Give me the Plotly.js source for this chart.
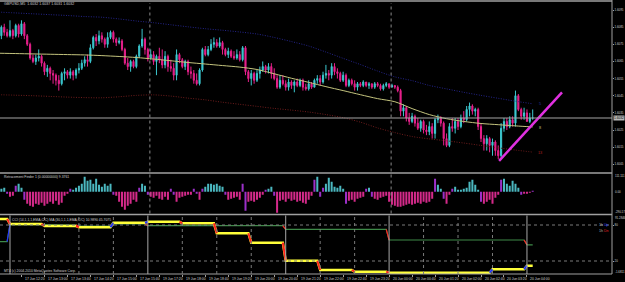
<!DOCTYPE html>
<html><head><meta charset="utf-8">
<script src="https://cdn.plot.ly/plotly-3.0.1.min.js"></script>
<style>html,body{margin:0;padding:0;background:#000;overflow:hidden}#chart{width:625px;height:282px}</style>
</head><body><div id="chart"></div>
<script>
// ---------------- DATA ----------------
const chartTitle = "GBPUSD,M5  1.6032 1.6037 1.6031 1.6032";
const histTitle = "Retracement Finder 1 (0.00000000) 9.3761";
const oscTitle = "CCI (14,1,1,1,EMA,C/C) MA (30,1,1,1,EMA,C/C) 10.9890 45.7075";
const copyrightText = "MT4 (c) 2004-2010 MetaQuotes Software Corp.";
const firstOpen = 1.6078;
const closes = [1.6080,1.6085,1.6082,1.6080,1.6083,1.6080,1.6086,1.6081,1.6087,1.6080,
1.6075,1.6067,1.6065,1.6067,1.6068,1.6064,1.6059,1.6061,1.6058,1.6057,
1.6054,1.6052,1.6058,1.6059,1.6057,1.6059,1.6057,1.6060,1.6061,1.6064,
1.6066,1.6065,1.6073,1.6079,1.6077,1.6080,1.6078,1.6075,1.6079,1.6082,
1.6078,1.6076,1.6077,1.6072,1.6064,1.6062,1.6065,1.6062,1.6068,1.6074,
1.6078,1.6072,1.6067,1.6069,1.6065,1.6068,1.6066,1.6063,1.6068,1.6062,
1.6061,1.6057,1.6069,1.6066,1.6062,1.6065,1.6059,1.6058,1.6054,1.6052,
1.6060,1.6072,1.6069,1.6072,1.6075,1.6076,1.6074,1.6076,1.6072,1.6069,
1.6071,1.6068,1.6067,1.6069,1.6066,1.6073,1.6059,1.6055,1.6058,1.6054,
1.6058,1.6060,1.6062,1.6060,1.6062,1.6058,1.6055,1.6050,1.6054,1.6052,
1.6050,1.6053,1.6051,1.6053,1.6051,1.6054,1.6050,1.6049,1.6052,1.6050,
1.6054,1.6055,1.6053,1.6057,1.6058,1.6057,1.6062,1.6059,1.6058,1.6054,
1.6057,1.6051,1.6054,1.6052,1.6050,1.6052,1.6051,1.6053,1.6051,1.6052,
1.6050,1.6052,1.6051,1.6049,1.6051,1.6052,1.6050,1.6051,1.6050,1.6048,
1.6036,1.6038,1.6032,1.6030,1.6033,1.6029,1.6026,1.6030,1.6025,1.6024,
1.6027,1.6023,1.6031,1.6032,1.6029,1.6020,1.6016,1.6027,1.6026,1.6030,
1.6027,1.6032,1.6031,1.6037,1.6039,1.6036,1.6037,1.6027,1.6020,1.6017,
1.6020,1.6016,1.6018,1.6013,1.6010,1.6026,1.6030,1.6027,1.6031,1.6029,
1.6045,1.6037,1.6033,1.6035,1.6030,1.6032,1.6032];
const highs = [1.6083,1.6086,1.6087,1.6084,1.6089,1.6084,1.6087,1.6087,1.6089,1.6088,
1.6081,1.6076,1.6069,1.6069,1.6072,1.6069,1.6065,1.6063,1.6062,1.6060,
1.6058,1.6057,1.6059,1.6061,1.6060,1.6061,1.6060,1.6061,1.6064,1.6066,
1.6068,1.6069,1.6075,1.6080,1.6081,1.6083,1.6082,1.6079,1.6082,1.6083,
1.6083,1.6079,1.6079,1.6078,1.6073,1.6067,1.6066,1.6066,1.6069,1.6075,
1.6084,1.6079,1.6073,1.6072,1.6071,1.6069,1.6073,1.6072,1.6071,1.6069,
1.6066,1.6064,1.6072,1.6070,1.6067,1.6066,1.6066,1.6062,1.6060,1.6058,
1.6061,1.6073,1.6074,1.6074,1.6078,1.6079,1.6078,1.6079,1.6077,1.6073,
1.6073,1.6072,1.6071,1.6072,1.6071,1.6074,1.6074,1.6060,1.6060,1.6059,
1.6060,1.6062,1.6065,1.6063,1.6064,1.6064,1.6061,1.6057,1.6057,1.6057,
1.6054,1.6055,1.6054,1.6054,1.6055,1.6055,1.6055,1.6052,1.6054,1.6053,
1.6055,1.6057,1.6057,1.6059,1.6063,1.6060,1.6064,1.6064,1.6061,1.6059,
1.6059,1.6058,1.6055,1.6055,1.6054,1.6053,1.6053,1.6054,1.6053,1.6053,
1.6052,1.6053,1.6053,1.6052,1.6052,1.6053,1.6052,1.6052,1.6051,1.6051,
1.6049,1.6040,1.6039,1.6035,1.6035,1.6034,1.6032,1.6031,1.6031,1.6028,
1.6030,1.6029,1.6032,1.6034,1.6033,1.6030,1.6023,1.6029,1.6032,1.6032,
1.6032,1.6034,1.6036,1.6039,1.6041,1.6040,1.6038,1.6038,1.6029,1.6022,
1.6022,1.6021,1.6020,1.6019,1.6016,1.6029,1.6032,1.6032,1.6033,1.6033,
1.6048,1.6046,1.6038,1.6038,1.6037,1.6035,1.6037];
const lows = [1.6076,1.6078,1.6080,1.6079,1.6079,1.6078,1.6079,1.6079,1.6080,1.6078,
1.6074,1.6066,1.6064,1.6063,1.6065,1.6062,1.6057,1.6056,1.6054,1.6052,
1.6051,1.6048,1.6051,1.6054,1.6055,1.6055,1.6054,1.6055,1.6058,1.6060,
1.6062,1.6062,1.6064,1.6072,1.6074,1.6075,1.6076,1.6073,1.6073,1.6078,
1.6076,1.6074,1.6075,1.6071,1.6063,1.6060,1.6059,1.6061,1.6061,1.6067,
1.6073,1.6069,1.6065,1.6066,1.6063,1.6057,1.6064,1.6061,1.6061,1.6059,
1.6059,1.6054,1.6054,1.6064,1.6061,1.6060,1.6057,1.6055,1.6052,1.6051,
1.6051,1.6059,1.6068,1.6068,1.6071,1.6073,1.6073,1.6073,1.6069,1.6068,
1.6067,1.6067,1.6066,1.6066,1.6065,1.6065,1.6057,1.6053,1.6051,1.6052,
1.6053,1.6055,1.6059,1.6058,1.6058,1.6055,1.6054,1.6049,1.6049,1.6051,
1.6048,1.6048,1.6049,1.6047,1.6050,1.6050,1.6048,1.6048,1.6048,1.6049,
1.6050,1.6052,1.6051,1.6052,1.6055,1.6054,1.6055,1.6057,1.6055,1.6053,
1.6053,1.6050,1.6050,1.6051,1.6048,1.6048,1.6050,1.6050,1.6050,1.6049,
1.6049,1.6049,1.6050,1.6048,1.6048,1.6050,1.6049,1.6050,1.6049,1.6047,
1.6033,1.6033,1.6030,1.6028,1.6029,1.6027,1.6025,1.6024,1.6023,1.6022,
1.6022,1.6020,1.6020,1.6029,1.6027,1.6016,1.6015,1.6015,1.6024,1.6023,
1.6025,1.6026,1.6029,1.6030,1.6033,1.6034,1.6033,1.6025,1.6018,1.6013,
1.6013,1.6012,1.6010,1.6010,1.6008,1.6009,1.6024,1.6025,1.6026,1.6027,
1.6027,1.6036,1.6031,1.6031,1.6030,1.6029,1.6031];

// moving averages, sampled every 6 bars
const maBars = [0,6,12,18,24,30,36,42,48,54,60,66,72,78,84,90,96,102,108,114,120,126,132,138,144,150,156,162,168,174,180,186];
const maYellow = [1.60698,1.60696,1.60694,1.60692,1.60690,1.60688,1.60684,1.60679,1.60673,1.60664,1.60654,1.60644,1.60635,1.60626,1.60617,1.60603,1.60578,1.60552,1.60528,1.60503,1.60480,1.60456,1.60433,1.60415,1.60375,1.60340,1.60316,1.60300,1.60288,1.60281,1.60274,1.60268];
const maBlue = [1.60938,1.60933,1.60928,1.60923,1.60918,1.60912,1.60908,1.60898,1.60886,1.60876,1.60864,1.60852,1.60841,1.60832,1.60822,1.60810,1.60790,1.60766,1.60740,1.60705,1.60668,1.60632,1.60594,1.60560,1.60538,1.60510,1.60490,1.60470,1.60452,1.60435,1.60418,1.60403];
const maRed = [1.60456,1.60453,1.60450,1.60446,1.60442,1.60439,1.60438,1.60444,1.60452,1.60455,1.60448,1.60436,1.60426,1.60412,1.60400,1.60388,1.60376,1.60366,1.60355,1.60340,1.60322,1.60296,1.60262,1.60235,1.60212,1.60198,1.60187,1.60174,1.60160,1.60146,1.60133,1.60121];
const maLabels = ["5","8","13"];

// manual trend line
const trendBars = [174.3, 196.2];
const trendPrices = [1.6007, 1.6047];
const bidPrice = 1.6032;

// histogram (Retracement Finder)
const histVals = [21,21,28,-14,-35,-28,42,56,28,-56,
-84,-98,-105,-84,-91,-77,-98,-84,-70,-84,
-63,-91,-77,-28,-14,21,14,28,42,56,
105,77,84,56,91,49,35,56,42,56,
-21,-28,-70,-105,-126,-98,-84,-56,-70,28,
56,42,-21,-35,-42,-28,-49,-56,-35,-56,
21,-21,-70,-42,-35,-28,-21,-21,21,-14,
-56,21,35,56,56,49,56,42,35,-21,
-56,-49,-42,-35,-56,56,-133,-70,-63,-70,
-56,-42,-21,14,21,35,-28,-147,-63,-56,
-70,-49,-63,-56,-70,-63,-77,-84,-56,-28,
84,105,-35,28,56,98,70,35,28,42,
21,-84,-63,-56,-70,-49,-42,-35,21,28,
-35,-49,-56,-42,-35,-28,-70,-91,-98,-105,
-105,-98,-91,-84,-91,-84,-77,-84,-70,-77,
-70,-49,91,49,21,-49,-84,-21,21,35,
14,14,21,28,70,84,49,14,-70,-84,
-70,-56,-84,-42,-21,84,91,56,42,77,
56,28,-21,-14,-14,-7,7];
const histLabels = ["111.111","0.00","-290.173"];

// multi-timeframe oscillator (hourly steps)
const stepBars = [0,4,16,28,40,52,64,76,88,100,112,124,136,148,160,172,184];
const oscMain = [90,81.7,78.3,76.2,83.8,85.5,82.8,66.2,50.5,20.5,5.0,2.2,0.5,0.5,0.5,6.2,12.2];
const oscSignal = [52.2,81.2,80,78.3,81.7,78.8,78.8,78.8,78.8,72.8,72.8,72.8,55,55,55,55,47];
const oscLevels = [80, 20];
const oscScaleLabels = ["91.2846","-1.6811"];
const h4Bars = [4,52,100,136,184];
const daySepBars = [52,136];

// price axis ticks
const priceTicks = [1.6005,1.6015,1.6025,1.6035,1.6045,1.6055,1.6065,1.6075,1.6085,1.6095];
const priceTickText = ["1.6005","1.6015","1.6025","1.6035","1.6045","1.6055","1.6065","1.6075","1.6085","1.6095"];

// time axis labels
const timeBars = [0,8,16,24,32,40,48,56,64,72,80,88,96,104,112,120,128,136,144,152,160,168,176,184];
const timeText = ["17 Jun 2011","17 Jun 12:20","17 Jun 13:00","17 Jun 13:40","17 Jun 14:20","17 Jun 15:00","17 Jun 15:40","19 Jun 17:20","19 Jun 18:00","19 Jun 18:40","19 Jun 19:20","19 Jun 20:00","19 Jun 20:40","19 Jun 21:20","19 Jun 22:00","19 Jun 22:40","19 Jun 23:20","20 Jun 00:00","20 Jun 00:40","20 Jun 01:20","20 Jun 02:00","20 Jun 02:40","20 Jun 03:20","20 Jun 04:00"];

// ---------------- STYLE ----------------
const BULL = '#3cc8d0', BEAR = '#e8208c';
const H_CYAN = '#4bb8c0', H_PINK = '#d42a8a', H_PURPLE = '#9b30c8';
const TXT = '#d0d0d0';
const FONT = 'Liberation Sans, Arial, sans-serif';
const PH = 274; // plot-area height in px (top margin 0)
const P = py => (PH - py) / PH;

const N = closes.length;
const xs = closes.map((_, i) => i);
const opens = [firstOpen].concat(closes.slice(0, -1));

const traces = [];
// moving averages
traces.push({type:'scatter', mode:'lines', x:maBars, y:maBlue, line:{color:'#24248a', width:1, dash:'1px,1.5px', shape:'spline', smoothing:0.8}, hoverinfo:'skip', xaxis:'x', yaxis:'y'});
traces.push({type:'scatter', mode:'lines', x:maBars, y:maRed, line:{color:'#6e1c1c', width:1, dash:'1px,1.5px', shape:'spline', smoothing:0.8}, hoverinfo:'skip', xaxis:'x', yaxis:'y'});
traces.push({type:'scatter', mode:'lines', x:maBars, y:maYellow, line:{color:'#c4c47e', width:1, shape:'spline', smoothing:0.8}, hoverinfo:'skip', xaxis:'x', yaxis:'y'});
// candles
traces.push({type:'candlestick', x:xs, open:opens, high:highs, low:lows, close:closes,
  increasing:{line:{color:BULL, width:1}, fillcolor:BULL},
  decreasing:{line:{color:BEAR, width:1}, fillcolor:BEAR},
  whiskerwidth:0, hoverinfo:'skip', xaxis:'x', yaxis:'y'});
// trend line
traces.push({type:'scatter', mode:'lines', x:trendBars, y:trendPrices, line:{color:'#e030e0', width:2.5}, hoverinfo:'skip', xaxis:'x', yaxis:'y'});

// histogram
const histColors = histVals.map((v, i) => (i > 0 && Math.sign(v) !== Math.sign(histVals[i-1])) ? H_PURPLE : (v >= 0 ? H_CYAN : H_PINK));
traces.push({type:'bar', x:xs, y:histVals, marker:{color:histColors, line:{width:0}}, hoverinfo:'skip', xaxis:'x', yaxis:'y2'});

// oscillator step lines
const segOf = i => { let s = 0; for (let k = 0; k < stepBars.length; k++) if (stepBars[k] <= i) s = k; return s; };
const mainY = xs.map(i => oscMain[segOf(i)]);
const sigY = xs.map(i => oscSignal[segOf(i)]);
function transitions(vals, up) {
  const tx = [], ty = [];
  for (let k = 1; k < stepBars.length; k++) {
    const a = vals[k-1], b = vals[k];
    if (a === b) continue;
    if ((b > a) === up) { tx.push(stepBars[k]-1, stepBars[k], null); ty.push(a, b, null); }
  }
  return {tx, ty};
}
traces.push({type:'scatter', mode:'lines', x:xs, y:sigY, line:{color:'#3e8a48', width:1.2}, hoverinfo:'skip', xaxis:'x', yaxis:'y3'});
traces.push({type:'scatter', mode:'lines', x:xs, y:mainY, line:{color:'#ffff3a', width:2.5}, hoverinfo:'skip', xaxis:'x', yaxis:'y3'});
[[oscSignal, 1.2], [oscMain, 2]].forEach(([vals, w]) => {
  const dn = transitions(vals, false), upT = transitions(vals, true);
  traces.push({type:'scatter', mode:'lines', x:dn.tx, y:dn.ty, line:{color:'#ff2020', width:w}, connectgaps:false, hoverinfo:'skip', xaxis:'x', yaxis:'y3'});
  traces.push({type:'scatter', mode:'lines', x:upT.tx, y:upT.ty, line:{color:'#2030ff', width:w}, connectgaps:false, hoverinfo:'skip', xaxis:'x', yaxis:'y3'});
});

// ---------------- SHAPES ----------------
const shapes = [];
const gray = '#a0a0a0';
shapes.push({type:'line', xref:'paper', yref:'paper', x0:0, x1:1, y0:P(1), y1:P(1), line:{color:gray, width:1.5}});
shapes.push({type:'line', xref:'paper', yref:'paper', x0:0, x1:1, y0:P(173), y1:P(173), line:{color:gray, width:1.5}});
shapes.push({type:'line', xref:'paper', yref:'paper', x0:0, x1:1, y0:P(214.5), y1:P(214.5), line:{color:gray, width:1.5}});
shapes.push({type:'line', xref:'paper', yref:'paper', x0:1, x1:1, y0:0, y1:1, line:{color:gray, width:1}});
shapes.push({type:'line', xref:'paper', yref:'paper', x0:0, x1:1, y0:0, y1:0, line:{color:gray, width:1}});
shapes.push({type:'line', xref:'paper', yref:'y', x0:0, x1:1, y0:bidPrice, y1:bidPrice, line:{color:'#a4a4a4', width:1}});
daySepBars.forEach(b => shapes.push({type:'line', xref:'x', yref:'paper', x0:b+0.7, x1:b+0.7, y0:P(213.5), y1:P(3), line:{color:'#8a8a8a', width:1, dash:'dot'}}));
stepBars.slice(1).forEach(b => {
  const solid = h4Bars.includes(b);
  shapes.push({type:'line', xref:'x', yref:'paper', x0:b, x1:b, y0:0, y1:P(215.5), line:{color: solid ? '#a8a8a8' : '#7a7a7a', width:1, dash: solid ? 'solid' : 'dot'}});
});
oscLevels.forEach(v => shapes.push({type:'line', xref:'paper', yref:'y3', x0:0, x1:1, y0:v, y1:v, line:{color:'#7a7a7a', width:1, dash:'dot'}}));

// ---------------- ANNOTATIONS ----------------
const ann = [];
const f = (size, color) => ({family:FONT, size:size, color:color || TXT});
const RS = 2.9; // right scale font size
ann.push({xref:'paper', yref:'paper', x:0, y:P(4), xanchor:'left', yanchor:'middle', xshift:2, text:chartTitle, showarrow:false, font:f(3.6)});
ann.push({xref:'paper', yref:'paper', x:0, y:P(176.5), xanchor:'left', yanchor:'middle', xshift:2, text:histTitle, showarrow:false, font:f(3.4)});
ann.push({xref:'paper', yref:'paper', x:0, y:P(219.5), xanchor:'left', yanchor:'middle', xshift:10, text:oscTitle, showarrow:false, font:f(3.4)});
ann.push({xref:'paper', yref:'paper', x:0, y:P(271), xanchor:'left', yanchor:'middle', xshift:2, text:copyrightText, showarrow:false, font:f(3.4)});
// histogram scale labels
[[176, histLabels[0]], [191.7, histLabels[1]], [212.3, histLabels[2]]].forEach(([py, t]) =>
  ann.push({xref:'paper', yref:'paper', x:1, y:P(py), xanchor:'left', yanchor:'middle', xshift:1, text:t, showarrow:false, font:f(RS)}));
ann.push({xref:'paper', yref:'paper', x:1, y:P(217.7), xanchor:'left', yanchor:'middle', xshift:1, text:oscScaleLabels[0], showarrow:false, font:f(RS)});
ann.push({xref:'paper', yref:'paper', x:1, y:P(272.3), xanchor:'left', yanchor:'middle', xshift:1, text:oscScaleLabels[1], showarrow:false, font:f(RS)});
// bid label
ann.push({xref:'paper', yref:'y', x:1, y:bidPrice, xanchor:'left', yanchor:'middle', xshift:0.5, text:bidPrice.toFixed(4), showarrow:false, font:f(3.2, '#000'), bgcolor:'#b8b8b8', borderpad:0});
// Up / Dn
ann.push({xref:'paper', yref:'paper', x:597/612, y:P(225), xanchor:'left', yanchor:'middle', text:'<span style="color:#b0b0b0">1h</span> <span style="color:#3048ff">Up</span>', showarrow:false, font:f(3.6)});
ann.push({xref:'paper', yref:'paper', x:597/612, y:P(231), xanchor:'left', yanchor:'middle', text:'<span style="color:#b0b0b0">1h</span> <span style="color:#e02020">Dn</span>', showarrow:false, font:f(3.6)});
// MA end labels
const lastMA = maBars.length - 1;
[[maBlue, '#2a3aa8', maLabels[0]], [maYellow, '#c4c47e', maLabels[1]], [maRed, '#b02020', maLabels[2]]].forEach(([arr, c, t]) =>
  ann.push({xref:'x', yref:'y', x:maBars[lastMA] + 2.5, y:arr[lastMA] - 0.00004, xanchor:'center', yanchor:'middle', text:t, showarrow:false, font:f(3.8, c)}));
// time labels
timeBars.forEach((b, k) => ann.push({xref:'x', yref:'paper', x:b, y:P(275), xanchor:'left', yanchor:'top', xshift:1.5, text:timeText[k], showarrow:false, font:f(3.4)}));

const layout = {
  width:625, height:282,
  margin:{l:0, r:13, t:0, b:8, pad:0},
  paper_bgcolor:'#000', plot_bgcolor:'#000',
  showlegend:false, bargap:0.3, boxgap:0.45,
  xaxis:{range:[0.522, 213.61], anchor:'y3', showgrid:false, zeroline:false, showticklabels:false,
         ticks:'outside', ticklen:2, tickcolor:'#a0a0a0', tickmode:'array', tickvals:timeBars,
         rangeslider:{visible:false}, fixedrange:true},
  yaxis:{domain:[P(172), P(3)], range:[1.60005, 1.60991], side:'right', anchor:'x', showgrid:false, zeroline:false,
         tickmode:'array', tickvals:priceTicks, ticktext:priceTickText, ticks:'outside', ticklen:1, tickcolor:'#a0a0a0',
         tickfont:f(RS)},
  yaxis2:{domain:[P(213.5), P(175)], range:[-152.6, 116.9], side:'right', anchor:'x', showgrid:false, zeroline:false,
          showticklabels:false, ticks:''},
  yaxis3:{domain:[0, P(215.5)], range:[-1.67, 95.83], side:'right', anchor:'x', showgrid:false, zeroline:false,
          tickmode:'array', tickvals:oscLevels, ticktext:oscLevels.map(String), ticks:'outside', ticklen:1, tickcolor:'#a0a0a0',
          tickfont:f(RS)},
  shapes:shapes, annotations:ann
};

Plotly.newPlot('chart', traces, layout, {staticPlot:true, displayModeBar:false});
</script>
</body></html>
